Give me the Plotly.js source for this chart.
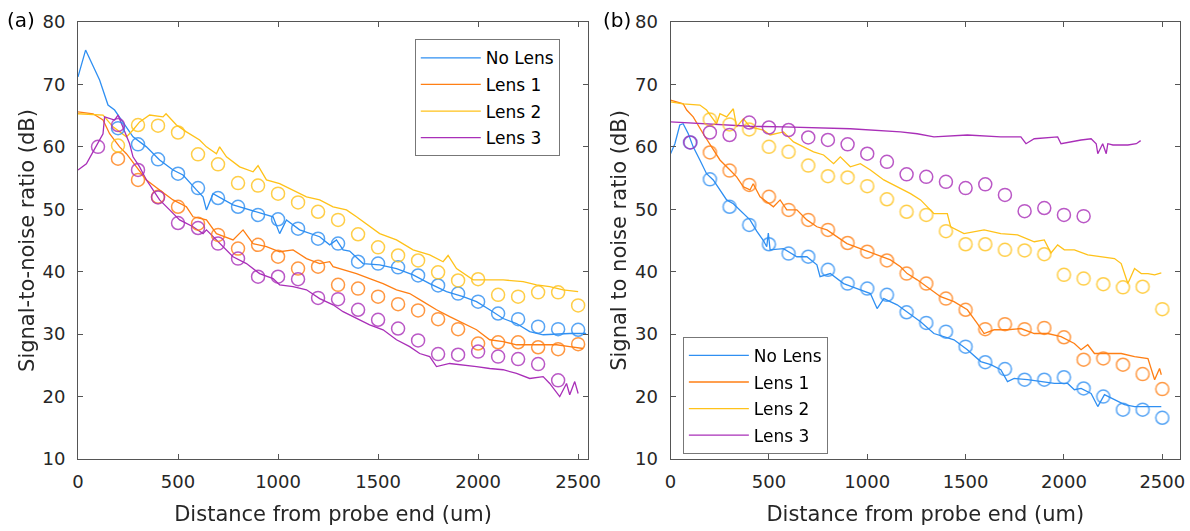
<!DOCTYPE html>
<html>
<head>
<meta charset="utf-8">
<script src="https://cdn.plot.ly/plotly-3.0.1.min.js"></script>
<style>html,body{margin:0;padding:0;background:#fff}#chart{width:1190px;height:531px}</style>
</head>
<body>
<div id="chart"></div>
<script>
// ---------- Panel (a) lines ----------
const aNoLensX = [0,38,108,150,183,242,275,342,408,475,525,592,625,642,675,775,842,925,975,1008,1042,1108,1208,1258,1292,1325,1358,1425,1508,1592,1675,1758,1842,1925,1992,2058,2125,2192,2258,2325,2392,2458,2540];
const aNoLensY = [71.2,75.5,70.7,66.7,65.9,63.2,61.6,60.0,57.9,56.3,55.5,53.1,52.0,49.9,52.5,50.7,50.1,49.3,48.8,46.1,48.3,46.7,45.6,44.3,45.1,43.5,43.3,41.3,41.1,40.5,39.5,38.1,36.8,36.0,35.2,33.9,32.5,31.7,30.4,29.9,30.0,30.1,30.1];
const aLens1X = [0,75,125,158,208,242,292,342,408,475,542,575,642,692,708,775,825,875,942,1008,1075,1142,1208,1258,1275,1325,1392,1458,1525,1592,1658,1725,1792,1858,1925,1992,2058,2125,2192,2258,2325,2392,2458,2525];
const aLens1Y = [65.6,65.3,64.3,62.1,60.0,58.9,56.8,54.7,53.1,51.5,50.4,48.8,48.3,46.1,45.9,45.1,46.7,44.5,44.0,43.2,43.5,42.1,41.3,41.6,40.8,40.3,39.7,38.9,38.1,37.1,36.5,35.2,33.9,32.8,31.7,30.7,29.1,28.8,28.3,28.3,28.3,28.3,28.0,27.7];
const aLens2X = [0,125,175,242,275,308,358,425,440,492,542,608,642,692,708,742,808,875,900,942,1008,1075,1142,1208,1275,1342,1392,1508,1592,1675,1758,1825,1850,1892,1975,2042,2125,2225,2292,2358,2425,2500];
const aLens2Y = [65.3,65.1,63.2,61.6,62.7,64.0,65.1,64.8,65.3,63.5,62.4,61.1,60.0,58.9,60.0,58.4,56.8,56.0,57.0,54.7,54.1,53.1,52.0,51.5,50.4,49.9,48.8,46.1,45.1,43.5,42.7,41.6,42.6,40.5,38.7,38.7,38.7,38.4,37.9,37.6,37.1,36.8];
const aLens3X = [0,42,75,125,133,183,200,225,258,275,308,342,375,408,458,508,575,625,642,708,775,842,908,975,1008,1075,1142,1208,1275,1325,1392,1458,1525,1592,1658,1708,1758,1792,1858,1925,1992,2058,2125,2192,2258,2325,2358,2408,2442,2458,2483,2500];
const aLens3Y = [56.3,57.3,59.2,62.1,64.8,64.3,65.1,63.2,60.5,58.4,56.8,54.7,53.1,51.5,49.9,48.3,47.2,46.1,46.7,44.5,42.4,41.3,39.7,38.9,37.9,37.6,37.1,35.7,34.7,33.6,32.5,31.5,30.7,29.1,28.0,26.9,26.4,24.8,25.3,25.1,24.8,24.5,24.3,23.7,22.9,23.2,22.1,20.0,22.1,20.3,22.4,20.5];

// ---------- Panel (a) circles ----------
const aNoLensCX = [200,300,400,500,600,700,800,900,1000,1100,1200,1300,1400,1500,1600,1700,1800,1900,2000,2100,2200,2300,2400,2500];
const aNoLensCY = [63.0,60.4,58.0,55.7,53.4,51.8,50.4,49.1,48.4,46.9,45.3,44.5,41.6,41.3,40.7,39.4,37.8,36.5,35.2,33.3,32.4,31.2,30.8,30.7];
const aLens1CX = [200,300,400,500,600,700,800,900,1000,1100,1200,1300,1400,1500,1600,1700,1800,1900,2000,2100,2200,2300,2400,2500];
const aLens1CY = [58.1,54.7,52.0,50.4,47.7,45.9,43.7,44.3,42.4,40.5,40.8,37.9,37.3,36.0,34.8,33.8,32.4,30.8,28.5,28.7,28.7,27.9,27.6,28.4];
const aLens2CX = [200,300,400,500,600,700,800,900,1000,1100,1200,1300,1400,1500,1600,1700,1800,1900,2000,2100,2200,2300,2400,2500];
const aLens2CY = [60.2,63.5,63.4,62.3,58.8,57.2,54.2,53.8,52.5,51.1,49.6,48.3,46.0,43.9,42.6,41.8,39.9,38.6,38.8,36.3,36.0,36.7,36.7,34.6];
const aLens3CX = [100,200,300,400,500,600,700,800,900,1000,1100,1200,1300,1400,1500,1600,1700,1800,1900,2000,2100,2200,2300,2400];
const aLens3CY = [60.0,63.5,56.3,51.9,47.8,47.0,44.5,42.1,39.2,39.2,38.8,35.8,35.6,33.9,32.3,30.9,29.0,26.8,26.7,27.2,26.4,26.0,25.2,22.6];

// ---------- Panel (b) lines ----------
const bNoLensX = [0,22,47,64,90,115,149,183,217,251,285,319,353,404,438,472,489,497,506,574,642,693,744,760,812,880,948,1016,1050,1084,1152,1220,1271,1339,1390,1441,1509,1577,1628,1679,1713,1747,1815,1883,1951,2019,2053,2087,2138,2172,2206,2257,2308,2359,2427,2495];
const bNoLensY = [58.9,60.5,63.5,63.7,62.1,60.0,57.9,55.7,54.7,53.1,51.5,50.9,49.9,48.3,46.5,45.0,44.0,46.2,43.5,43.7,42.4,42.4,41.1,39.2,39.7,38.1,37.3,36.5,34.1,35.7,34.7,33.1,32.0,30.1,29.6,29.1,27.5,25.6,25.1,24.3,22.4,22.9,22.7,22.4,22.1,22.1,21.1,21.3,20.5,18.4,20.3,19.5,18.7,18.4,18.4,18.4];
const bLens1X = [0,64,82,115,166,217,251,302,336,370,404,420,455,523,557,591,642,693,744,795,846,897,982,1050,1118,1169,1203,1254,1305,1373,1441,1509,1560,1594,1645,1713,1781,1849,1917,1985,2053,2087,2121,2155,2223,2291,2359,2427,2461,2486,2495];
const bLens1Y = [67.5,66.9,65.9,64.8,62.1,59.5,57.9,56.3,55.2,53.6,53.1,54.1,52.0,50.4,51.5,49.9,49.9,48.3,47.2,46.7,45.6,44.5,43.5,42.7,41.9,40.8,39.7,38.7,37.5,36.0,35.2,33.9,31.7,30.1,30.7,30.7,30.9,30.1,30.1,29.6,28.5,27.5,28.3,26.9,26.9,26.9,26.4,26.1,22.7,24.5,23.5];
const bLens2X = [0,64,149,183,234,251,285,319,336,370,404,472,506,574,625,676,727,778,829,863,914,965,1016,1084,1152,1220,1271,1305,1339,1407,1424,1492,1594,1679,1764,1849,1900,1934,1968,2002,2053,2121,2189,2257,2291,2325,2359,2393,2427,2461,2495];
const bLens2Y = [67.2,66.9,66.7,65.9,63.7,65.3,64.8,66.1,63.2,64.5,63.2,62.7,61.9,62.4,60.8,60.0,59.2,58.7,57.3,58.4,56.8,57.3,56.3,54.7,53.6,52.5,51.5,50.4,49.3,49.3,47.2,46.1,46.7,46.1,45.9,44.8,45.1,43.0,44.3,43.5,43.5,42.7,42.4,42.1,41.3,38.1,40.5,39.7,39.7,39.5,39.8];
const bLens3X = [0,200,404,574,914,1169,1254,1339,1509,1679,1781,1807,1849,1968,1985,2087,2138,2164,2172,2197,2215,2223,2249,2325,2368,2390];
const bLens3Y = [64.0,63.7,63.3,63.2,62.9,62.4,62.1,61.6,61.9,61.6,61.6,60.5,61.3,61.6,60.5,61.1,61.3,60.5,58.9,60.5,58.9,60.5,60.3,60.3,60.5,61.0];

// ---------- Panel (b) circles ----------
const bNoLensCX = [100,200,300,400,500,600,700,800,900,1000,1100,1200,1300,1400,1500,1600,1700,1800,1900,2000,2100,2200,2300,2400,2500];
const bNoLensCY = [60.7,54.8,50.4,47.5,44.4,42.9,42.4,40.3,38.1,37.3,36.3,33.5,31.8,30.4,28.0,25.5,24.4,22.7,22.7,23.1,21.3,20.0,17.9,17.9,16.6];
const bLens1CX = [200,300,400,500,600,700,800,900,1000,1100,1200,1300,1400,1500,1600,1700,1800,1900,2000,2100,2200,2300,2400,2500];
const bLens1CY = [59.1,56.2,53.9,52.0,49.9,48.3,46.7,44.6,43.2,41.8,39.7,38.1,35.7,33.9,30.8,31.6,30.8,31.0,29.5,25.9,26.1,25.1,23.6,21.2];
const bLens2CX = [200,300,400,500,600,700,800,900,1000,1100,1200,1300,1400,1500,1600,1700,1800,1900,2000,2100,2200,2300,2400,2500];
const bLens2CY = [64.4,63.6,62.8,60.0,59.2,57.0,55.3,55.1,53.7,51.6,49.6,49.1,46.5,44.4,44.4,43.5,43.4,42.8,39.5,38.9,38.0,37.5,37.6,34.0];
const bLens3CX = [100,200,300,400,500,600,700,800,900,1000,1100,1200,1300,1400,1500,1600,1700,1800,1900,2000,2100];
const bLens3CY = [60.7,62.3,61.9,63.9,63.1,62.7,61.5,61.1,60.4,58.9,57.6,55.6,55.2,54.4,53.4,54.0,52.3,49.7,50.2,49.1,48.9];

const seriesNames = ['No Lens','Lens 1','Lens 2','Lens 3'];
const xTickVals = [0,500,1000,1500,2000,2500];
const xTickText = ['0','500','1000','1500','2000','2500'];
const yTickVals = [10,20,30,40,50,60,70,80];

const colors = ['#2f8ff2','#ff7f14','#ffc21a','#a92fb8'];
const FONT = 'DejaVu Sans, Arial, sans-serif';

const panels = [
  {xa:'x', ya:'y', legend:'legend', lines:[[aNoLensX,aNoLensY],[aLens1X,aLens1Y],[aLens2X,aLens2Y],[aLens3X,aLens3Y]],
   circ:[[aNoLensCX,aNoLensCY],[aLens1CX,aLens1CY],[aLens2CX,aLens2CY],[aLens3CX,aLens3CY]]},
  {xa:'x2', ya:'y2', legend:'legend2', lines:[[bNoLensX,bNoLensY],[bLens1X,bLens1Y],[bLens2X,bLens2Y],[bLens3X,bLens3Y]],
   circ:[[bNoLensCX,bNoLensCY],[bLens1CX,bLens1CY],[bLens2CX,bLens2CY],[bLens3CX,bLens3CY]]}
];

const traces = [];
panels.forEach((p, pi) => {
  p.lines.forEach((d, i) => {
    traces.push({x:d[0], y:d[1], xaxis:p.xa, yaxis:p.ya, type:'scatter', mode:'lines',
      name:seriesNames[i], legend:p.legend, legendgroup:'p'+pi+'s'+i,
      line:{color:colors[i], width:1.3}});
  });
  p.circ.forEach((d, i) => {
    traces.push({x:d[0], y:d[1], xaxis:p.xa, yaxis:p.ya, type:'scatter', mode:'markers',
      name:seriesNames[i], legend:p.legend, legendgroup:'p'+pi+'s'+i, showlegend:false,
      opacity:0.8,
      marker:{symbol:'circle-open', size:13, color:colors[i], line:{width:1.5, color:colors[i]}}});
  });
});

const axCommon = {
  showline:true, linecolor:'#555', linewidth:1, mirror:'ticks', ticks:'inside', ticklen:5,
  tickcolor:'#555', showgrid:false, zeroline:false,
  tickfont:{family:FONT, size:18, color:'#262626'}
};

const W = 1190, H = 531;
const L = 78.3, R = 10, T = 21.7, B = 71.7;
const pw = W - L - R;

const layout = {
  width:W, height:H, margin:{l:L, r:R, t:T, b:B, pad:0},
  paper_bgcolor:'#fff', plot_bgcolor:'#fff',
  font:{family:FONT, color:'#262626'},
  xaxis: Object.assign({}, axCommon, {domain:[0,(588.3-L)/pw], range:[0,2550], tickvals:xTickVals, ticktext:xTickText,
    ticklabelstandoff:6, title:{text:'Distance from probe end (um)', font:{family:FONT, size:21, color:'#262626'}, standoff:15}}),
  yaxis: Object.assign({}, axCommon, {domain:[0,1], range:[10,80], tickvals:yTickVals, anchor:'x',
    ticklabelstandoff:8, title:{text:'Signal-to-noise ratio (dB)', font:{family:FONT, size:21, color:'#262626'}, standoff:2}}),
  xaxis2: Object.assign({}, axCommon, {domain:[(670.7-L)/pw,1], range:[0,2590], tickvals:xTickVals, ticktext:xTickText, anchor:'y2',
    ticklabelstandoff:6, title:{text:'Distance from probe end (um)', font:{family:FONT, size:21, color:'#262626'}, standoff:15}}),
  yaxis2: Object.assign({}, axCommon, {domain:[0,1], range:[10,80], tickvals:yTickVals, anchor:'x2',
    ticklabelstandoff:8, title:{text:'Signal to noise ratio (dB)', font:{family:FONT, size:21, color:'#262626'}, standoff:2}}),
  legend:{x:(415-L)/pw, y:1-(39-T)/(H-T-B), xanchor:'left', yanchor:'top', bgcolor:'#fff',
    bordercolor:'#777', borderwidth:1, font:{family:FONT, size:17, color:'#000'},
    traceorder:'grouped', tracegroupgap:1.5, itemwidth:60},
  legend2:{x:(683-L)/pw, y:1-(337-T)/(H-T-B), xanchor:'left', yanchor:'top', bgcolor:'#fff',
    bordercolor:'#777', borderwidth:1, font:{family:FONT, size:17, color:'#000'},
    traceorder:'grouped', tracegroupgap:1.5, itemwidth:60},
  annotations:[
    {text:'(a)', xref:'paper', yref:'paper', x:(5-L)/pw, y:1-(20-T)/(H-T-B), xanchor:'left', yanchor:'middle',
     showarrow:false, font:{family:FONT, size:20, color:'#000'}},
    {text:'(b)', xref:'paper', yref:'paper', x:(601-L)/pw, y:1-(20-T)/(H-T-B), xanchor:'left', yanchor:'middle',
     showarrow:false, font:{family:FONT, size:20, color:'#000'}}
  ],
  showlegend:true
};

Plotly.newPlot('chart', traces, layout, {staticPlot:true, displayModeBar:false});
</script>
</body>
</html>
